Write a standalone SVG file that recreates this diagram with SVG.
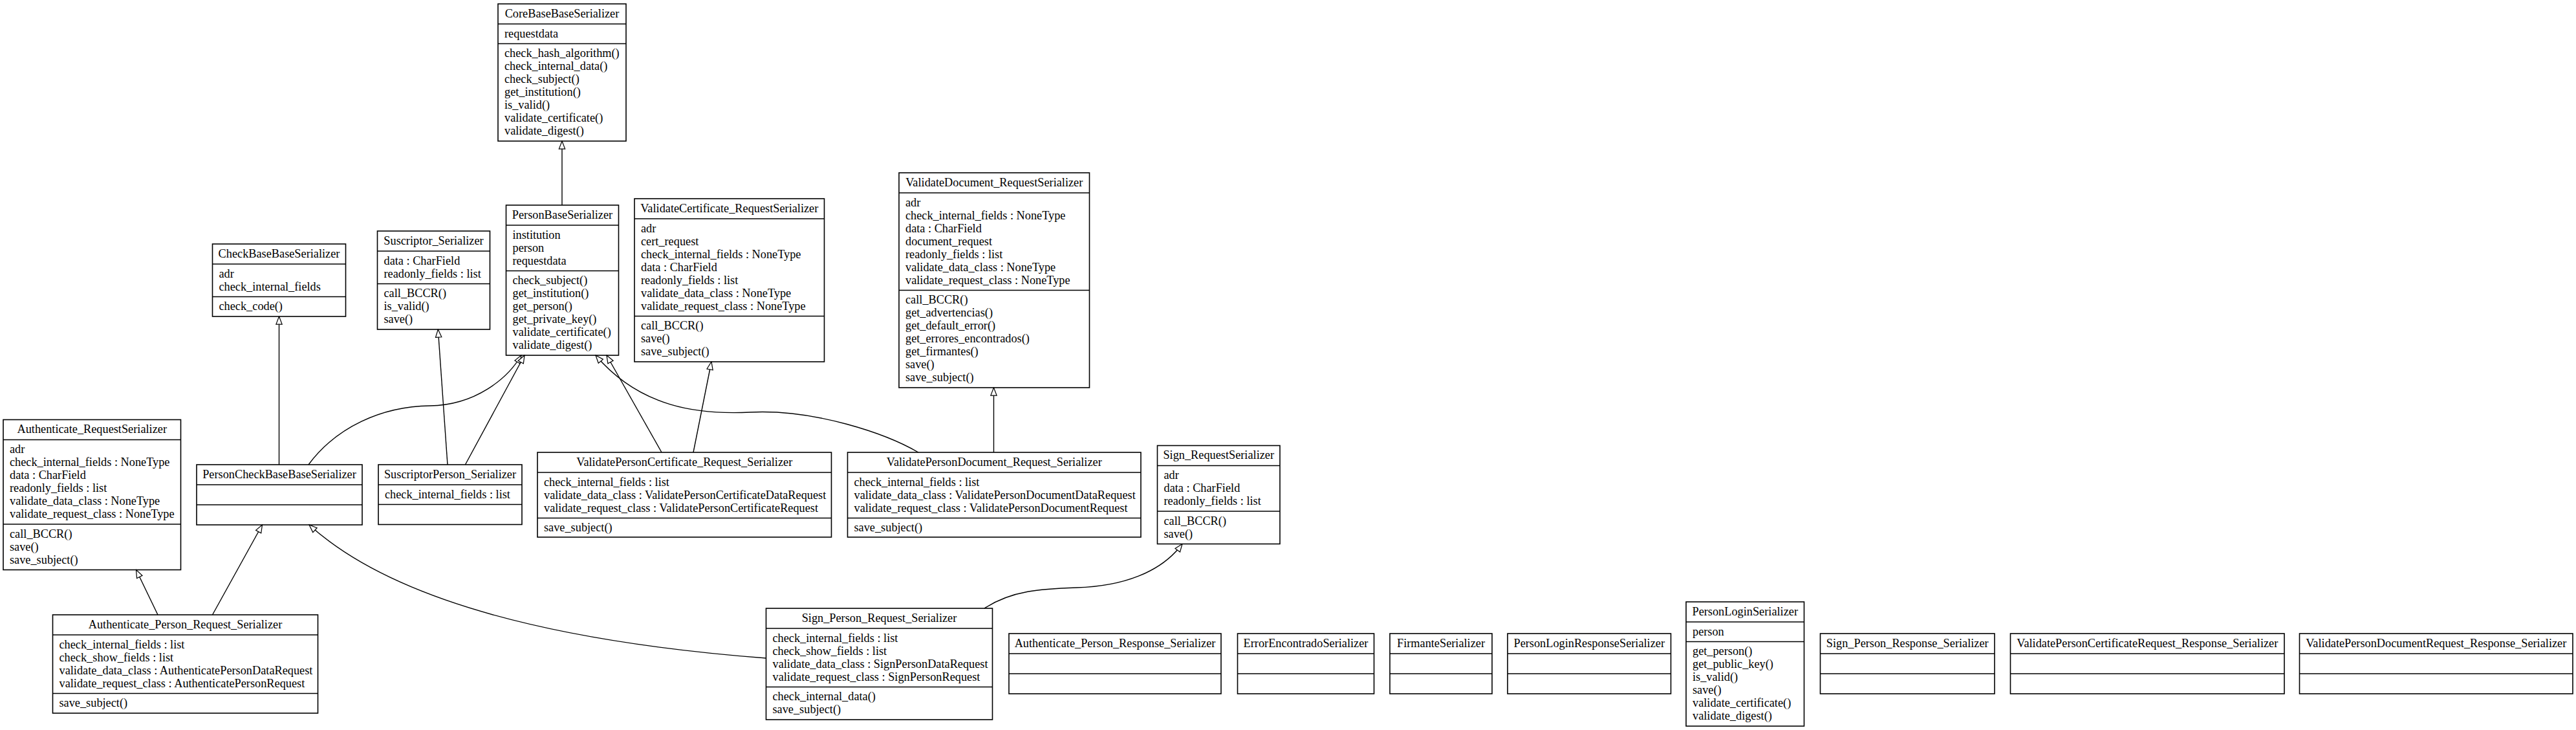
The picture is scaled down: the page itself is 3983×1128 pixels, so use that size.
<svg xmlns="http://www.w3.org/2000/svg" width="3983" height="1128" viewBox="0 0 3983 1128">
<style>
.box{fill:#fff;stroke:#000;stroke-width:1.6}
.sep{stroke:#000;stroke-width:1.6}
text{font-family:"Liberation Serif","Times New Roman",serif;font-size:18.3px;fill:#000}
.c{text-anchor:middle}
.e{fill:none;stroke:#000;stroke-width:1.4;marker-end:url(#tri)}
</style>
<defs>
<marker id="tri" markerUnits="userSpaceOnUse" markerWidth="14" markerHeight="12" viewBox="-1 -1 15 12" refX="13" refY="5" orient="auto">
<path d="M0,0 L13,5 L0,10 Z" fill="#fff" stroke="#000" stroke-width="1.3"/>
</marker>
</defs>
<rect width="3983" height="1128" fill="#fff"/>

<g id="CoreBaseBaseSerializer">
<rect class="box" x="770" y="6" width="198" height="212"/>
<line class="sep" x1="770" y1="37" x2="968" y2="37"/><line class="sep" x1="770" y1="67.5" x2="968" y2="67.5"/>
<text class="c" x="869" y="26.5">CoreBaseBaseSerializer</text>
<text x="780" y="57.5">requestdata</text>
<text x="780" y="88">check_hash_algorithm()</text>
<text x="780" y="108">check_internal_data()</text>
<text x="780" y="128">check_subject()</text>
<text x="780" y="148">get_institution()</text>
<text x="780" y="168">is_valid()</text>
<text x="780" y="188">validate_certificate()</text>
<text x="780" y="208">validate_digest()</text>
</g>

<g id="PersonBaseSerializer">
<rect class="box" x="782.5" y="317" width="174" height="232"/>
<line class="sep" x1="782.5" y1="348" x2="956.5" y2="348"/><line class="sep" x1="782.5" y1="418.5" x2="956.5" y2="418.5"/>
<text class="c" x="869.5" y="337.5">PersonBaseSerializer</text>
<text x="792.5" y="368.5">institution</text>
<text x="792.5" y="388.5">person</text>
<text x="792.5" y="408.5">requestdata</text>
<text x="792.5" y="439">check_subject()</text>
<text x="792.5" y="459">get_institution()</text>
<text x="792.5" y="479">get_person()</text>
<text x="792.5" y="499">get_private_key()</text>
<text x="792.5" y="519">validate_certificate()</text>
<text x="792.5" y="539">validate_digest()</text>
</g>

<g id="CheckBaseBaseSerializer">
<rect class="box" x="328.5" y="377" width="206" height="112"/>
<line class="sep" x1="328.5" y1="408" x2="534.5" y2="408"/><line class="sep" x1="328.5" y1="458.5" x2="534.5" y2="458.5"/>
<text class="c" x="431.5" y="397.5">CheckBaseBaseSerializer</text>
<text x="338.5" y="428.5">adr</text>
<text x="338.5" y="448.5">check_internal_fields</text>
<text x="338.5" y="479">check_code()</text>
</g>

<g id="Suscriptor_Serializer">
<rect class="box" x="583.5" y="357" width="174" height="152"/>
<line class="sep" x1="583.5" y1="388" x2="757.5" y2="388"/><line class="sep" x1="583.5" y1="438.5" x2="757.5" y2="438.5"/>
<text class="c" x="670.5" y="377.5">Suscriptor_Serializer</text>
<text x="593.5" y="408.5">data : CharField</text>
<text x="593.5" y="428.5">readonly_fields : list</text>
<text x="593.5" y="459">call_BCCR()</text>
<text x="593.5" y="479">is_valid()</text>
<text x="593.5" y="499">save()</text>
</g>

<g id="ValidateCertificate_RequestSerializer">
<rect class="box" x="981" y="307" width="293.5" height="252"/>
<line class="sep" x1="981" y1="338" x2="1274.5" y2="338"/><line class="sep" x1="981" y1="488.5" x2="1274.5" y2="488.5"/>
<text class="c" x="1127.75" y="327.5">ValidateCertificate_RequestSerializer</text>
<text x="991" y="358.5">adr</text>
<text x="991" y="378.5">cert_request</text>
<text x="991" y="398.5">check_internal_fields : NoneType</text>
<text x="991" y="418.5">data : CharField</text>
<text x="991" y="438.5">readonly_fields : list</text>
<text x="991" y="458.5">validate_data_class : NoneType</text>
<text x="991" y="478.5">validate_request_class : NoneType</text>
<text x="991" y="509">call_BCCR()</text>
<text x="991" y="529">save()</text>
<text x="991" y="549">save_subject()</text>
</g>

<g id="ValidateDocument_RequestSerializer">
<rect class="box" x="1390" y="267" width="294.5" height="332"/>
<line class="sep" x1="1390" y1="298" x2="1684.5" y2="298"/><line class="sep" x1="1390" y1="448.5" x2="1684.5" y2="448.5"/>
<text class="c" x="1537.25" y="287.5">ValidateDocument_RequestSerializer</text>
<text x="1400" y="318.5">adr</text>
<text x="1400" y="338.5">check_internal_fields : NoneType</text>
<text x="1400" y="358.5">data : CharField</text>
<text x="1400" y="378.5">document_request</text>
<text x="1400" y="398.5">readonly_fields : list</text>
<text x="1400" y="418.5">validate_data_class : NoneType</text>
<text x="1400" y="438.5">validate_request_class : NoneType</text>
<text x="1400" y="469">call_BCCR()</text>
<text x="1400" y="489">get_advertencias()</text>
<text x="1400" y="509">get_default_error()</text>
<text x="1400" y="529">get_errores_encontrados()</text>
<text x="1400" y="549">get_firmantes()</text>
<text x="1400" y="569">save()</text>
<text x="1400" y="589">save_subject()</text>
</g>

<g id="Authenticate_RequestSerializer">
<rect class="box" x="5" y="648.5" width="274.5" height="232"/>
<line class="sep" x1="5" y1="679.5" x2="279.5" y2="679.5"/><line class="sep" x1="5" y1="810" x2="279.5" y2="810"/>
<text class="c" x="142.25" y="669">Authenticate_RequestSerializer</text>
<text x="15" y="700">adr</text>
<text x="15" y="720">check_internal_fields : NoneType</text>
<text x="15" y="740">data : CharField</text>
<text x="15" y="760">readonly_fields : list</text>
<text x="15" y="780">validate_data_class : NoneType</text>
<text x="15" y="800">validate_request_class : NoneType</text>
<text x="15" y="830.5">call_BCCR()</text>
<text x="15" y="850.5">save()</text>
<text x="15" y="870.5">save_subject()</text>
</g>

<g id="PersonCheckBaseBaseSerializer">
<rect class="box" x="304" y="718" width="256" height="93"/>
<line class="sep" x1="304" y1="749" x2="560" y2="749"/><line class="sep" x1="304" y1="780" x2="560" y2="780"/>
<text class="c" x="432" y="738.5">PersonCheckBaseBaseSerializer</text>
</g>

<g id="SuscriptorPerson_Serializer">
<rect class="box" x="585" y="718" width="222" height="92.5"/>
<line class="sep" x1="585" y1="749" x2="807" y2="749"/><line class="sep" x1="585" y1="779.5" x2="807" y2="779.5"/>
<text class="c" x="696" y="738.5">SuscriptorPerson_Serializer</text>
<text x="595" y="769.5">check_internal_fields : list</text>
</g>

<g id="ValidatePersonCertificate_Request_Serializer">
<rect class="box" x="831" y="699" width="454.5" height="131"/>
<line class="sep" x1="831" y1="730" x2="1285.5" y2="730"/><line class="sep" x1="831" y1="800.5" x2="1285.5" y2="800.5"/>
<text class="c" x="1058.25" y="719.5">ValidatePersonCertificate_Request_Serializer</text>
<text x="841" y="750.5">check_internal_fields : list</text>
<text x="841" y="770.5">validate_data_class : ValidatePersonCertificateDataRequest</text>
<text x="841" y="790.5">validate_request_class : ValidatePersonCertificateRequest</text>
<text x="841" y="821">save_subject()</text>
</g>

<g id="ValidatePersonDocument_Request_Serializer">
<rect class="box" x="1310.5" y="699" width="453.5" height="131"/>
<line class="sep" x1="1310.5" y1="730" x2="1764" y2="730"/><line class="sep" x1="1310.5" y1="800.5" x2="1764" y2="800.5"/>
<text class="c" x="1537.25" y="719.5">ValidatePersonDocument_Request_Serializer</text>
<text x="1320.5" y="750.5">check_internal_fields : list</text>
<text x="1320.5" y="770.5">validate_data_class : ValidatePersonDocumentDataRequest</text>
<text x="1320.5" y="790.5">validate_request_class : ValidatePersonDocumentRequest</text>
<text x="1320.5" y="821">save_subject()</text>
</g>

<g id="Sign_RequestSerializer">
<rect class="box" x="1789.5" y="688.5" width="189.5" height="152"/>
<line class="sep" x1="1789.5" y1="719.5" x2="1979" y2="719.5"/><line class="sep" x1="1789.5" y1="790" x2="1979" y2="790"/>
<text class="c" x="1884.25" y="709">Sign_RequestSerializer</text>
<text x="1799.5" y="740">adr</text>
<text x="1799.5" y="760">data : CharField</text>
<text x="1799.5" y="780">readonly_fields : list</text>
<text x="1799.5" y="810.5">call_BCCR()</text>
<text x="1799.5" y="830.5">save()</text>
</g>

<g id="Authenticate_Person_Request_Serializer">
<rect class="box" x="81.5" y="950" width="410" height="152"/>
<line class="sep" x1="81.5" y1="981" x2="491.5" y2="981"/><line class="sep" x1="81.5" y1="1071.5" x2="491.5" y2="1071.5"/>
<text class="c" x="286.5" y="970.5">Authenticate_Person_Request_Serializer</text>
<text x="91.5" y="1001.5">check_internal_fields : list</text>
<text x="91.5" y="1021.5">check_show_fields : list</text>
<text x="91.5" y="1041.5">validate_data_class : AuthenticatePersonDataRequest</text>
<text x="91.5" y="1061.5">validate_request_class : AuthenticatePersonRequest</text>
<text x="91.5" y="1092">save_subject()</text>
</g>

<g id="Sign_Person_Request_Serializer">
<rect class="box" x="1184.5" y="940" width="350" height="172"/>
<line class="sep" x1="1184.5" y1="971" x2="1534.5" y2="971"/><line class="sep" x1="1184.5" y1="1061.5" x2="1534.5" y2="1061.5"/>
<text class="c" x="1359.5" y="960.5">Sign_Person_Request_Serializer</text>
<text x="1194.5" y="991.5">check_internal_fields : list</text>
<text x="1194.5" y="1011.5">check_show_fields : list</text>
<text x="1194.5" y="1031.5">validate_data_class : SignPersonDataRequest</text>
<text x="1194.5" y="1051.5">validate_request_class : SignPersonRequest</text>
<text x="1194.5" y="1082">check_internal_data()</text>
<text x="1194.5" y="1102">save_subject()</text>
</g>

<g id="Authenticate_Person_Response_Serializer">
<rect class="box" x="1560" y="979" width="328" height="93"/>
<line class="sep" x1="1560" y1="1010" x2="1888" y2="1010"/><line class="sep" x1="1560" y1="1041" x2="1888" y2="1041"/>
<text class="c" x="1724" y="999.5">Authenticate_Person_Response_Serializer</text>
</g>

<g id="ErrorEncontradoSerializer">
<rect class="box" x="1913.5" y="979" width="211" height="93"/>
<line class="sep" x1="1913.5" y1="1010" x2="2124.5" y2="1010"/><line class="sep" x1="1913.5" y1="1041" x2="2124.5" y2="1041"/>
<text class="c" x="2019" y="999.5">ErrorEncontradoSerializer</text>
</g>

<g id="FirmanteSerializer">
<rect class="box" x="2149" y="979" width="158" height="93"/>
<line class="sep" x1="2149" y1="1010" x2="2307" y2="1010"/><line class="sep" x1="2149" y1="1041" x2="2307" y2="1041"/>
<text class="c" x="2228" y="999.5">FirmanteSerializer</text>
</g>

<g id="PersonLoginResponseSerializer">
<rect class="box" x="2331" y="979" width="252.5" height="93"/>
<line class="sep" x1="2331" y1="1010" x2="2583.5" y2="1010"/><line class="sep" x1="2331" y1="1041" x2="2583.5" y2="1041"/>
<text class="c" x="2457.25" y="999.5">PersonLoginResponseSerializer</text>
</g>

<g id="PersonLoginSerializer">
<rect class="box" x="2607" y="930" width="182.5" height="192"/>
<line class="sep" x1="2607" y1="961" x2="2789.5" y2="961"/><line class="sep" x1="2607" y1="991.5" x2="2789.5" y2="991.5"/>
<text class="c" x="2698.25" y="950.5">PersonLoginSerializer</text>
<text x="2617" y="981.5">person</text>
<text x="2617" y="1012">get_person()</text>
<text x="2617" y="1032">get_public_key()</text>
<text x="2617" y="1052">is_valid()</text>
<text x="2617" y="1072">save()</text>
<text x="2617" y="1092">validate_certificate()</text>
<text x="2617" y="1112">validate_digest()</text>
</g>

<g id="Sign_Person_Response_Serializer">
<rect class="box" x="2814.5" y="979" width="269.5" height="93"/>
<line class="sep" x1="2814.5" y1="1010" x2="3084" y2="1010"/><line class="sep" x1="2814.5" y1="1041" x2="3084" y2="1041"/>
<text class="c" x="2949.25" y="999.5">Sign_Person_Response_Serializer</text>
</g>

<g id="ValidatePersonCertificateRequest_Response_Serializer">
<rect class="box" x="3108.5" y="979" width="423.5" height="93"/>
<line class="sep" x1="3108.5" y1="1010" x2="3532" y2="1010"/><line class="sep" x1="3108.5" y1="1041" x2="3532" y2="1041"/>
<text class="c" x="3320.25" y="999.5">ValidatePersonCertificateRequest_Response_Serializer</text>
</g>

<g id="ValidatePersonDocumentRequest_Response_Serializer">
<rect class="box" x="3555.5" y="979" width="422.5" height="93"/>
<line class="sep" x1="3555.5" y1="1010" x2="3978" y2="1010"/><line class="sep" x1="3555.5" y1="1041" x2="3978" y2="1041"/>
<text class="c" x="3766.75" y="999.5">ValidatePersonDocumentRequest_Response_Serializer</text>
</g>

<g id="connectors">
<path class="e" d="M869,317 L869,218"/>
<path class="e" d="M431.5,718 L431.5,489"/>
<path class="e" d="M692,718 L677.3,509"/>
<path class="e" d="M477,718 C520,660 590,628 665,627 C735,626 785,585 806,549"/>
<path class="e" d="M719.4,718 L811,549"/>
<path class="e" d="M1023,699 L938,549"/>
<path class="e" d="M1420,699 C1370,670 1260,632 1160,637 C1080,641 990,630 921,549"/>
<path class="e" d="M1072,699 L1100,559"/>
<path class="e" d="M1536.5,699 L1536.5,599"/>
<path class="e" d="M1522,940 C1565,912 1610,910 1665,908 C1735,906 1795,885 1828,840.5"/>
<path class="e" d="M244,950 L210.5,880.5"/>
<path class="e" d="M328.5,950 L405.5,811"/>
<path class="e" d="M1184.5,1017 C900,995 620,940 478,811"/>
</g>
</svg>
